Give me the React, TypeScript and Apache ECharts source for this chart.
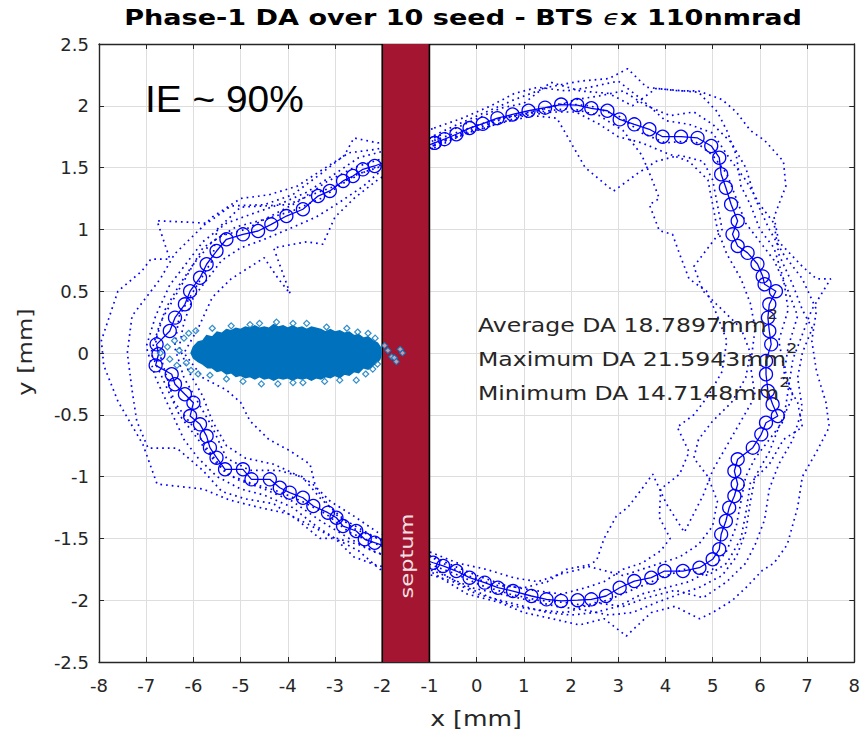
import React, { useEffect, useRef } from "react";
import * as echarts from "echarts";

// ---------- data (mm) ----------
const X_MIN = -8;
const X_MAX = 8;
const Y_MIN = -2.5;
const Y_MAX = 2.5;
const SEPTUM_X = [-2, -1];

// average DA boundary (open circles)
const meanDA: number[][] = [
  [-0.89, 1.70], [-0.68, 1.73], [-0.43, 1.77], [-0.15, 1.82], [0.13, 1.855], [0.44, 1.90], [0.76, 1.93],
  [1.10, 1.96], [1.45, 1.985], [1.79, 2.01], [2.13, 2.006], [2.43, 1.98], [2.77, 1.96], [3.03, 1.89],
  [3.34, 1.85], [3.66, 1.81], [3.94, 1.75], [4.33, 1.75], [4.68, 1.74], [4.97, 1.675], [5.14, 1.58],
  [5.18, 1.446], [5.28, 1.337], [5.39, 1.203], [5.53, 1.068], [5.42, 0.96], [5.53, 0.866], [5.74, 0.81],
  [5.95, 0.72], [6.06, 0.62], [6.10, 0.556], [6.34, 0.50], [6.20, 0.394], [6.17, 0.286], [6.20, 0.178],
  [6.24, 0.07], [6.13, -0.065], [6.13, -0.172], [6.17, -0.307], [6.27, -0.415], [6.38, -0.51], [6.13, -0.564],
  [6.03, -0.658], [5.85, -0.766], [5.53, -0.86], [5.46, -0.955], [5.53, -1.062], [5.46, -1.157], [5.35, -1.252],
  [5.28, -1.359], [5.18, -1.467], [5.14, -1.588], [5.00, -1.669], [4.72, -1.737], [4.37, -1.764], [3.98, -1.764],
  [3.70, -1.818], [3.34, -1.845], [3.03, -1.899], [2.74, -1.966], [2.43, -1.993], [2.14, -2.0], [1.79, -2.006],
  [1.48, -1.993], [1.16, -1.966], [0.77, -1.926], [0.45, -1.899], [0.17, -1.858], [-0.15, -1.818], [-0.43, -1.764],
  [-0.71, -1.723], [-0.92, -1.697],
  [-2.16, -1.535], [-2.37, -1.507], [-2.55, -1.44], [-2.83, -1.40], [-2.97, -1.333], [-3.15, -1.292], [-3.46, -1.238],
  [-3.68, -1.171], [-3.96, -1.13], [-4.17, -1.09], [-4.38, -1.022], [-4.77, -1.022], [-4.95, -0.941], [-5.33, -0.941],
  [-5.51, -0.847], [-5.65, -0.766], [-5.72, -0.672], [-5.86, -0.577], [-6.07, -0.51], [-6.00, -0.402], [-6.18, -0.334],
  [-6.39, -0.253], [-6.46, -0.172], [-6.80, -0.10], [-6.74, -0.01], [-6.78, 0.07], [-6.50, 0.178], [-6.39, 0.286],
  [-6.18, 0.394], [-6.07, 0.50], [-5.86, 0.609], [-5.72, 0.718], [-5.51, 0.825], [-5.30, 0.92], [-4.95, 0.96],
  [-4.63, 0.987], [-4.35, 1.041], [-4.03, 1.108], [-3.68, 1.163], [-3.36, 1.27], [-3.11, 1.311], [-2.83, 1.392],
  [-2.62, 1.432], [-2.41, 1.486], [-2.16, 1.513],
];

// individual seeds (dotted)
const seed1: number[][] = [
  [-0.9, 1.76], [-0.4, 1.85], [0.2, 1.95], [0.8, 2.05], [1.5, 2.15], [2.2, 2.2], [2.8, 2.22], [3.2, 2.3], [3.6, 2.15],
  [4.3, 2.12], [4.7, 2.12], [5.2, 2.05], [5.5, 1.95], [5.8, 1.8], [6.1, 1.72], [6.5, 1.55], [6.55, 1.35], [6.3, 1.1],
  [6.4, 0.9], [6.9, 0.7], [7.2, 0.6], [7.5, 0.6], [7.1, 0.35], [6.9, 0.15], [6.7, -0.05], [6.6, -0.3], [6.5, -0.55],
  [6.2, -0.7], [5.9, -0.85], [5.7, -1.0], [5.6, -1.2], [5.5, -1.4], [5.3, -1.6], [5.0, -1.75], [4.5, -1.85],
  [4.0, -1.9], [3.5, -1.95], [3.0, -2.05], [2.5, -2.1], [2.0, -2.12], [1.5, -2.1], [1.0, -2.05], [0.5, -2.0],
  [0.0, -1.95], [-0.5, -1.85], [-0.92, -1.8], [-2.1, -1.72], [-2.6, -1.65], [-3.0, -1.5], [-3.4, -1.4],
  [-3.9, -1.25], [-4.5, -1.15], [-5.0, -1.1], [-5.5, -1.0], [-5.9, -0.85], [-6.2, -0.7], [-6.5, -0.45],
  [-6.8, -0.2], [-7.0, 0.05], [-6.8, 0.3], [-6.5, 0.55], [-6.1, 0.75], [-5.8, 0.9], [-5.3, 1.05], [-4.8, 1.12],
  [-4.2, 1.2], [-3.6, 1.3], [-3.0, 1.45], [-2.5, 1.58], [-2.1, 1.62],
];
const seed2: number[][] = [
  [-0.9, 1.66], [-0.2, 1.78], [0.5, 1.86], [1.2, 1.92], [1.7, 1.9], [2.0, 1.7], [2.3, 1.5], [2.9, 1.31], [3.4, 1.45],
  [3.8, 1.55], [4.3, 1.6], [4.8, 1.55], [5.0, 1.4], [5.1, 1.2], [5.2, 1.0], [4.9, 0.85], [4.6, 0.7], [4.8, 0.5],
  [5.2, 0.35], [5.6, 0.2], [5.8, 0.0], [5.7, -0.2], [5.4, -0.4], [5.0, -0.55], [4.7, -0.7], [4.6, -0.85],
  [4.9, -1.0], [5.1, -1.2], [5.0, -1.4], [4.7, -1.55], [4.3, -1.65], [3.9, -1.7], [3.5, -1.75], [3.1, -1.8],
  [2.6, -1.75], [2.3, -1.72], [1.9, -1.75], [1.5, -1.85], [1.0, -1.9], [0.4, -1.88], [-0.2, -1.8], [-0.92, -1.66],
  [-2.2, -1.48], [-2.8, -1.35], [-3.3, -1.18], [-3.7, -1.0], [-4.2, -0.95], [-4.8, -0.95], [-5.3, -0.85],
  [-5.6, -0.6], [-5.9, -0.4], [-6.2, -0.2], [-6.4, 0.05], [-6.3, 0.3], [-6.0, 0.5], [-5.6, 0.75], [-5.5, 1.0],
  [-5.0, 1.18], [-4.5, 1.19], [-4.0, 1.2], [-3.5, 1.28], [-3.0, 1.35], [-2.5, 1.45], [-2.1, 1.5],
];
const seed3: number[][] = [
  [-0.9, 1.72], [-0.3, 1.8], [0.3, 1.88], [0.9, 1.93], [1.5, 1.98], [2.1, 2.05], [2.6, 2.08], [3.1, 2.12], [3.6, 2.0],
  [4.1, 1.92], [4.6, 1.95], [5.0, 1.85], [5.4, 1.7], [5.7, 1.5], [5.9, 1.25], [6.2, 1.0], [6.5, 0.8], [6.9, 0.6],
  [7.2, 0.35], [7.1, 0.1], [7.2, -0.15], [7.4, -0.4], [7.47, -0.6], [7.2, -0.8], [6.9, -1.0], [6.8, -1.25],
  [6.58, -1.55], [6.3, -1.7], [6.05, -1.76], [5.7, -1.9], [5.42, -2.0], [5.0, -2.1], [4.72, -2.15], [4.2, -2.05],
  [3.7, -2.1], [3.17, -2.29], [2.7, -2.15], [2.18, -2.2], [1.6, -2.15], [1.0, -2.1], [0.5, -2.02], [-0.2, -1.95],
  [-0.92, -1.78], [-2.2, -1.6], [-2.7, -1.5], [-3.3, -1.36], [-3.9, -1.2], [-4.5, -1.1], [-5.1, -1.02],
  [-5.5, -0.9], [-5.9, -0.7], [-6.3, -0.5], [-6.6, -0.25], [-6.9, 0.0], [-6.7, 0.25], [-6.4, 0.45], [-6.1, 0.65],
  [-5.8, 0.85], [-5.4, 0.95], [-4.9, 1.0], [-4.4, 1.1], [-3.8, 1.22], [-3.2, 1.38], [-2.6, 1.5], [-2.1, 1.56],
];
const seed4: number[][] = [
  [-0.9, 1.68], [-0.1, 1.8], [0.6, 1.9], [1.3, 1.95], [2.0, 1.98], [2.6, 1.92], [3.1, 1.8], [3.5, 1.6], [3.7, 1.42],
  [3.87, 1.25], [3.66, 1.2], [3.87, 0.99], [4.15, 0.96], [4.3, 0.8], [4.5, 0.6], [4.87, 0.5], [5.1, 0.3], [5.3, 0.1],
  [5.2, -0.15], [4.9, -0.35], [4.6, -0.5], [4.25, -0.6], [4.5, -0.8], [4.3, -0.98], [3.9, -1.1], [3.87, -1.33],
  [4.1, -1.5], [3.9, -1.6], [3.5, -1.7], [3.1, -1.75], [2.7, -1.85], [2.3, -1.9], [1.8, -1.95], [1.2, -1.92],
  [0.6, -1.88], [0.0, -1.8], [-0.5, -1.72], [-0.92, -1.65], [-2.1, -1.5], [-2.6, -1.42], [-3.0, -1.3], [-3.4, -1.1],
  [-3.53, -0.9], [-3.96, -0.79], [-4.4, -0.7], [-4.8, -0.55], [-5.0, -0.4], [-5.3, -0.3], [-5.8, -0.2], [-6.2, 0.0],
  [-5.9, 0.2], [-5.6, 0.45], [-5.2, 0.6], [-4.5, 0.77], [-4.2, 0.6], [-3.95, 0.48], [-4.3, 0.85], [-3.6, 0.9],
  [-3.26, 0.88], [-3.0, 1.1], [-2.6, 1.25], [-2.1, 1.4],
];
const seed5: number[][] = [
  [-0.9, 1.74], [-0.2, 1.86], [0.5, 1.98], [1.0, 2.02], [1.57, 2.19], [2.2, 2.12], [2.8, 2.1], [3.3, 2.0], [3.8, 2.14],
  [4.4, 2.12], [4.7, 2.11], [5.1, 1.95], [5.3, 1.8], [5.5, 1.6], [5.6, 1.35], [5.8, 1.2], [6.0, 1.0], [6.3, 0.85],
  [6.5, 0.6], [6.6, 0.35], [6.4, 0.1], [6.5, -0.1], [6.7, -0.35], [6.4, -0.6], [6.2, -0.8], [5.9, -1.0], [5.8, -1.2],
  [5.7, -1.45], [5.5, -1.65], [5.2, -1.8], [4.7, -1.9], [4.3, -1.95], [3.8, -2.02], [3.3, -2.1], [2.8, -2.12],
  [2.3, -2.08], [1.7, -2.05], [1.1, -2.0], [0.5, -1.95], [-0.1, -1.9], [-0.92, -1.76], [-2.05, -1.75], [-2.5, -1.6],
  [-3.0, -1.5], [-3.5, -1.4], [-4.0, -1.3], [-4.6, -1.25], [-5.23, -1.19], [-5.8, -1.1], [-6.3, -1.08],
  [-6.77, -1.06], [-7.07, -0.74], [-7.6, -0.39], [-7.9, -0.1], [-7.95, 0.1], [-7.6, 0.5], [-7.1, 0.66],
  [-6.9, 0.76], [-6.5, 0.76], [-6.77, 1.07], [-6.2, 1.06], [-5.71, 1.05], [-5.2, 1.19], [-4.5, 1.2], [-3.9, 1.28],
  [-3.3, 1.45], [-2.8, 1.6], [-2.6, 1.74], [-2.1, 1.7],
];
const seed6: number[][] = [
  [-0.9, 1.7], [-0.3, 1.76], [0.4, 1.85], [1.0, 1.92], [1.6, 1.95], [2.1, 1.95], [2.6, 1.85], [3.0, 1.75], [3.5, 1.7],
  [4.0, 1.62], [4.5, 1.55], [4.9, 1.4], [5.0, 1.2], [5.1, 1.0], [5.3, 0.8], [5.6, 0.6], [5.8, 0.4], [5.9, 0.2],
  [5.8, -0.1], [5.9, -0.35], [5.6, -0.55], [5.3, -0.75], [5.0, -0.95], [4.8, -1.15], [4.6, -1.3], [4.4, -1.45],
  [4.02, -1.22], [3.73, -0.98], [3.5, -1.1], [3.2, -1.25], [2.96, -1.32], [2.7, -1.5], [2.54, -1.68], [2.2, -1.75],
  [1.76, -1.79], [1.3, -1.85], [0.8, -1.82], [0.2, -1.75], [-0.4, -1.7], [-0.92, -1.62], [-2.1, -1.45],
  [-2.6, -1.32], [-3.1, -1.2], [-3.5, -1.05], [-3.9, -0.97], [-4.3, -0.9], [-4.9, -0.85], [-5.3, -0.75],
  [-5.6, -0.55], [-5.8, -0.35], [-6.1, -0.15], [-6.3, 0.05], [-6.2, 0.25], [-6.0, 0.45], [-5.7, 0.6], [-5.4, 0.75],
  [-5.0, 0.85], [-4.5, 0.92], [-4.0, 1.0], [-3.4, 1.1], [-2.9, 1.22], [-2.4, 1.35], [-2.1, 1.45],
];
const seed7: number[][] = [
  [-0.9, 1.82], [-0.3, 1.9], [0.3, 2.0], [0.8, 2.1], [1.3, 2.15], [1.9, 2.12], [2.4, 2.15], [3.0, 2.2], [3.5, 2.05],
  [4.0, 1.88], [4.5, 1.85], [5.0, 1.78], [5.4, 1.55], [5.7, 1.4], [6.0, 1.2], [6.3, 1.05], [6.4, 0.8], [6.7, 0.55],
  [6.9, 0.35], [7.11, 0.2], [6.9, 0.0], [6.8, -0.2], [6.9, -0.45], [6.7, -0.7], [6.4, -0.9], [6.2, -1.1],
  [6.1, -1.35], [5.9, -1.55], [5.7, -1.7], [5.3, -1.85], [4.8, -1.98], [4.2, -1.92], [3.6, -1.98], [3.1, -2.05],
  [2.5, -2.02], [1.9, -2.1], [1.3, -2.08], [0.8, -2.05], [0.3, -1.98], [-0.3, -1.88], [-0.92, -1.74], [-2.1, -1.62],
  [-2.5, -1.55], [-2.96, -1.5], [-3.32, -1.5], [-3.8, -1.35], [-4.3, -1.22], [-4.9, -1.18], [-5.4, -1.12],
  [-5.8, -0.95], [-6.35, -0.77], [-6.96, -0.77], [-7.2, -0.55], [-7.3, -0.3], [-7.4, 0.0], [-7.3, 0.3],
  [-7.0, 0.45], [-6.7, 0.6], [-6.4, 0.8], [-6.0, 0.95], [-5.6, 1.1], [-5.0, 1.25], [-4.4, 1.28], [-3.8, 1.35],
  [-3.2, 1.5], [-2.7, 1.62], [-2.1, 1.65],
];
const seed8: number[][] = [
  [-0.9, 1.68], [-0.2, 1.8], [0.5, 1.9], [1.2, 1.95], [1.8, 2.02], [2.4, 2.0], [3.0, 1.92], [3.5, 1.78], [4.0, 1.7],
  [4.6, 1.72], [5.0, 1.6], [5.3, 1.45], [5.5, 1.25], [5.7, 1.05], [6.0, 0.9], [6.3, 0.75], [6.6, 0.5], [6.8, 0.3],
  [6.6, 0.05], [6.5, -0.2], [6.8, -0.4], [6.9, -0.6], [6.5, -0.7], [6.2, -0.9], [5.8, -1.05], [5.7, -1.3],
  [5.6, -1.5], [5.3, -1.7], [4.9, -1.8], [4.4, -1.75], [3.9, -1.82], [3.4, -1.9], [2.9, -1.98], [2.4, -2.05],
  [1.9, -2.02], [1.3, -2.0], [0.7, -1.95], [0.1, -1.88], [-0.5, -1.78], [-0.92, -1.72], [-2.1, -1.55],
  [-2.7, -1.45], [-3.2, -1.3], [-3.7, -1.2], [-4.2, -1.12], [-4.8, -1.05], [-5.3, -0.98], [-5.7, -0.78],
  [-6.0, -0.6], [-6.4, -0.4], [-6.6, -0.15], [-6.8, 0.1], [-6.6, 0.35], [-6.3, 0.55], [-6.0, 0.72], [-5.6, 0.9],
  [-5.1, 1.02], [-4.5, 1.08], [-3.9, 1.15], [-3.3, 1.25], [-2.8, 1.38], [-2.3, 1.48],
];
const seeds = [seed1, seed2, seed3, seed4, seed5, seed6, seed7, seed8];

// injected beam: dense core outline and sparse edge particles
const beamOutline: number[][] = [
  [-6.05, 0.0], [-6.0, 0.05], [-5.9, 0.09], [-5.8, 0.1], [-5.72, 0.14], [-5.6, 0.13], [-5.5, 0.17], [-5.4, 0.16],
  [-5.3, 0.19], [-5.2, 0.18], [-5.1, 0.2], [-5.0, 0.19], [-4.9, 0.21], [-4.8, 0.2], [-4.7, 0.22], [-4.6, 0.2],
  [-4.5, 0.21], [-4.4, 0.2], [-4.3, 0.23], [-4.2, 0.21], [-4.1, 0.22], [-4.0, 0.2], [-3.9, 0.22], [-3.8, 0.2],
  [-3.7, 0.21], [-3.6, 0.19], [-3.5, 0.21], [-3.4, 0.2], [-3.3, 0.19], [-3.2, 0.17], [-3.1, 0.19], [-3.0, 0.17],
  [-2.9, 0.18], [-2.8, 0.16], [-2.7, 0.17], [-2.6, 0.14], [-2.5, 0.15], [-2.4, 0.12], [-2.3, 0.13], [-2.2, 0.1],
  [-2.1, 0.08], [-2.03, 0.04], [-2.02, -0.01],
  [-2.05, -0.05], [-2.12, -0.08], [-2.2, -0.1], [-2.3, -0.13], [-2.4, -0.12], [-2.5, -0.16], [-2.6, -0.15],
  [-2.7, -0.18], [-2.8, -0.17], [-2.9, -0.2], [-3.0, -0.18], [-3.1, -0.2], [-3.2, -0.19], [-3.3, -0.21],
  [-3.4, -0.2], [-3.5, -0.22], [-3.6, -0.2], [-3.7, -0.21], [-3.8, -0.2], [-3.9, -0.22], [-4.0, -0.2],
  [-4.1, -0.21], [-4.2, -0.2], [-4.3, -0.22], [-4.4, -0.2], [-4.5, -0.21], [-4.6, -0.19], [-4.7, -0.21],
  [-4.8, -0.19], [-4.9, -0.2], [-5.0, -0.18], [-5.1, -0.19], [-5.2, -0.16], [-5.3, -0.17], [-5.4, -0.14],
  [-5.5, -0.15], [-5.6, -0.12], [-5.7, -0.12], [-5.8, -0.09], [-5.9, -0.07], [-6.0, -0.04],
];
const beamEdge: number[][] = [
  [-6.7, 0.0], [-6.55, 0.05], [-6.5, -0.05], [-6.4, 0.1], [-6.35, -0.1], [-6.3, 0.02], [-6.2, 0.12], [-6.15, -0.08],
  [-6.1, 0.16], [-6.05, -0.14], [-5.95, 0.18], [-5.9, -0.17], [-5.6, 0.2], [-5.2, 0.22], [-4.8, 0.23], [-4.6, 0.24],
  [-4.24, 0.25], [-3.89, 0.24], [-3.6, 0.24], [-3.18, 0.21], [-2.75, 0.2], [-2.52, 0.17], [-2.3, 0.16],
  [-2.15, 0.12], [-5.65, -0.18], [-5.3, -0.21], [-4.95, -0.23], [-4.56, -0.25], [-4.21, -0.25], [-3.89, -0.24],
  [-3.68, -0.24], [-3.22, -0.23], [-2.9, -0.22], [-2.55, -0.22], [-2.35, -0.17], [-2.2, -0.13], [-2.1, -0.09],
  [-1.95, 0.06], [-1.88, 0.02], [-1.8, -0.03], [-1.74, -0.04], [-1.7, -0.07], [-1.57, 0.0], [-1.62, 0.03],
];

// ---------- styling ----------
const BLUE = "#0000FF";
const BEAM = "#0072BD";
const INK = "#262626";
const SEPTUM_RED = "#A31530";
const FONT = "DejaVu Sans";

const closeLoop = (pts: number[][]) => [...pts, pts[0]];

export default function App() {
  const ref = useRef<HTMLDivElement>(null);

  useEffect(() => {
    const chart = echarts.init(ref.current!, null, { renderer: "svg" });

    const axisLine = { show: true, onZero: false, lineStyle: { color: INK, width: 1.4 } };
    const axisTick = { show: true, inside: true, length: 5, lineStyle: { color: INK, width: 1 } };

    const seedSeries = seeds.map((s, i) => ({
      name: "seed" + (i + 1),
      type: "line",
      data: closeLoop(s),
      showSymbol: false,
      silent: true,
      z: 2,
      lineStyle: { color: BLUE, width: 1.7, type: [1.7, 4] },
    }));

    const daText = (y: number, txt: string) => ({
      type: "text",
      x: 478,
      y,
      scaleX: 1.24,
      z: 100,
      style: {
        text: "{t|" + txt + "}{s|2}",
        verticalAlign: "middle",
        textVerticalAlign: "middle",
        rich: {
          t: { fontSize: 19, fontFamily: FONT, fill: INK, color: INK, lineHeight: 28, verticalAlign: "bottom" },
          s: { fontSize: 14, fontFamily: FONT, fill: INK, color: INK, verticalAlign: "top", lineHeight: 28 },
        },
      },
    });

    const option: any = {
      animation: false,
      backgroundColor: "#ffffff",
      grid: { left: 99, top: 44, width: 756, height: 618, containLabel: false },
      xAxis: [
        {
          type: "value", min: X_MIN, max: X_MAX, interval: 1, position: "bottom",
          axisLine, axisTick,
          axisLabel: { margin: 14, fontSize: 18, color: INK, fontFamily: FONT },
          splitLine: { show: true, lineStyle: { color: "#dedede", width: 1 } },
        },
        {
          type: "value", min: X_MIN, max: X_MAX, interval: 1, position: "top",
          axisLine, axisTick, axisLabel: { show: false }, splitLine: { show: false },
        },
      ],
      yAxis: [
        {
          type: "value", min: Y_MIN, max: Y_MAX, interval: 0.5, position: "left",
          axisLine, axisTick,
          axisLabel: { margin: 10, fontSize: 18, color: INK, fontFamily: FONT },
          splitLine: { show: true, lineStyle: { color: "#dedede", width: 1 } },
        },
        {
          type: "value", min: Y_MIN, max: Y_MAX, interval: 0.5, position: "right",
          axisLine, axisTick, axisLabel: { show: false }, splitLine: { show: false },
        },
      ],
      series: [
        ...seedSeries,
        {
          name: "average",
          type: "line",
          data: closeLoop(meanDA),
          symbol: "circle",
          symbolSize: 13,
          showSymbol: true,
          showAllSymbol: true,
          silent: true,
          z: 3,
          itemStyle: { color: "rgba(0,0,0,0)", borderColor: BLUE, borderWidth: 1.3 },
          lineStyle: { color: BLUE, width: 1.3 },
        },
        {
          name: "septum",
          type: "custom",
          z: 10,
          silent: true,
          data: [[SEPTUM_X[0], Y_MIN, SEPTUM_X[1], Y_MAX]],
          encode: { x: [0, 2], y: [1, 3] },
          renderItem: (_params: any, api: any) => {
            const p0 = api.coord([api.value(0), api.value(1)]);
            const p1 = api.coord([api.value(2), api.value(3)]);
            return {
              type: "group",
              children: [
                {
                  type: "rect",
                  shape: { x: p0[0], y: p1[1], width: p1[0] - p0[0], height: p0[1] - p1[1] },
                  style: { fill: SEPTUM_RED },
                },
                {
                  type: "line",
                  shape: { x1: p0[0], y1: p0[1], x2: p0[0], y2: p1[1] },
                  style: { stroke: "#000", lineWidth: 1.6 },
                },
                {
                  type: "line",
                  shape: { x1: p1[0], y1: p0[1], x2: p1[0], y2: p1[1] },
                  style: { stroke: "#000", lineWidth: 1.6 },
                },
              ],
            };
          },
        },
        {
          name: "beamCore",
          type: "custom",
          z: 12,
          silent: true,
          data: [[-4, 0]],
          renderItem: (_params: any, api: any) => ({
            type: "polygon",
            shape: { points: beamOutline.map((p) => api.coord(p)) },
            style: { fill: BEAM, stroke: BEAM, lineWidth: 1.5 },
          }),
        },
        {
          name: "beamEdge",
          type: "scatter",
          z: 13,
          silent: true,
          data: beamEdge,
          symbol: "diamond",
          symbolSize: 6,
          itemStyle: { color: "rgba(255,255,255,0.7)", borderColor: BEAM, borderWidth: 1.2 },
        },
      ],
      graphic: [
        {
          type: "text", x: 463, y: 18, scaleX: 1.29, z: 100,
          style: {
            text: "{b|Phase-1 DA over 10 seed - BTS }{e|ϵ}{b|x 110nmrad}",
            align: "center", textAlign: "center", verticalAlign: "middle", textVerticalAlign: "middle",
            rich: {
              b: { fontSize: 21, fontWeight: "bold", fontFamily: FONT, fill: "#000", color: "#000" },
              e: { fontSize: 21, fontStyle: "italic", fontFamily: FONT, fill: "#000", color: "#000" },
            },
          },
        },
        {
          type: "text", x: 145, y: 99, scaleX: 1.05, z: 100,
          style: {
            text: "IE ~ 90%", fontSize: 37, fontFamily: "Liberation Sans", fill: "#000",
            verticalAlign: "middle", textVerticalAlign: "middle",
          },
        },
        daText(321, "Average DA 18.7897mm"),
        daText(355, "Maximum DA 21.5943mm"),
        daText(389, "Minimum DA 14.7148mm"),
        {
          type: "text", x: 407, y: 556, rotation: Math.PI / 2, scaleX: 1.25, z: 100,
          style: {
            text: "septum", fontSize: 18, fontFamily: FONT, fill: "#F3E1E4",
            align: "center", textAlign: "center", verticalAlign: "middle", textVerticalAlign: "middle",
          },
        },
        {
          type: "text", x: 476, y: 718, scaleX: 1.2, z: 100,
          style: {
            text: "x [mm]", fontSize: 21, fontFamily: FONT, fill: INK,
            align: "center", textAlign: "center", verticalAlign: "middle", textVerticalAlign: "middle",
          },
        },
        {
          type: "text", x: 25, y: 352, rotation: Math.PI / 2, scaleX: 1.2, z: 100,
          style: {
            text: "y [mm]", fontSize: 20, fontFamily: FONT, fill: INK,
            align: "center", textAlign: "center", verticalAlign: "middle", textVerticalAlign: "middle",
          },
        },
      ],
    };

    chart.setOption(option);
    return () => chart.dispose();
  }, []);

  return (
    <div
      ref={ref}
      style={{ position: "absolute", left: 0, top: 0, width: 863, height: 736, background: "#ffffff" }}
    />
  );
}
